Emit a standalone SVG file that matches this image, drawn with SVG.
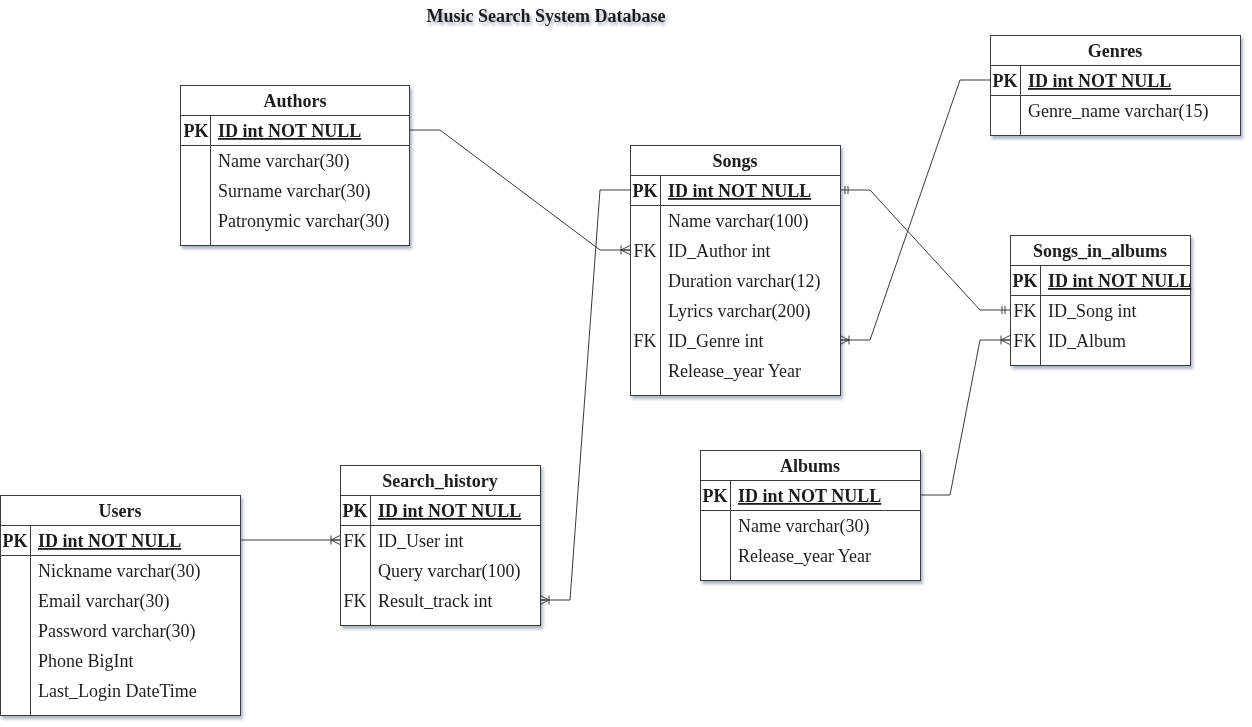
<svg xmlns="http://www.w3.org/2000/svg" width="1252" height="727" viewBox="0 0 1252 727">
<style>
  text { font-family: "Liberation Serif", "Times New Roman", serif; font-size: 18px; fill: #1e1e1e; }
  .title { font-weight: bold; text-anchor: middle; }
  .hdr { font-weight: bold; text-anchor: middle; }
  .key { text-anchor: middle; }
  .pk { font-weight: bold; }
  .pkf { font-weight: bold; text-decoration: underline; }
  .box { fill: #ffffff; stroke: #3a3a3a; stroke-width: 1; }
  .sep { stroke: #3a3a3a; stroke-width: 1; fill: none; }
  .conn { stroke: #3a3a3a; stroke-width: 1; fill: none; }
  .tbl { filter: url(#sh); }
</style>
<defs>
  <filter id="sh" x="-10%" y="-10%" width="130%" height="130%">
    <feDropShadow dx="2" dy="3" stdDeviation="1.6" flood-color="#1a2a50" flood-opacity="0.35"/>
  </filter>
  <marker id="oneMany" markerUnits="userSpaceOnUse" markerWidth="20" markerHeight="20" viewBox="-15 -10 20 20" refX="0" refY="0" orient="auto-start-reverse">
    <path d="M-9,0 L0,-4.5 M-9,0 L0,4.5 M-9,0 L0,0 M-9,-4.5 L-9,4.5" stroke="#3a3a3a" stroke-width="1" fill="none"/>
  </marker>
  <marker id="mandOne" markerUnits="userSpaceOnUse" markerWidth="20" markerHeight="20" viewBox="-15 -10 20 20" refX="0" refY="0" orient="auto-start-reverse">
    <path d="M-5,-4 L-5,4 M-8,-4 L-8,4" stroke="#3a3a3a" stroke-width="1" fill="none"/>
  </marker>
</defs>
<rect x="0" y="0" width="1252" height="727" fill="#ffffff"/>

<g class="tbl"><text class="title" x="546" y="22">Music Search System Database</text></g>

<g id="connectors">
  <path class="conn" d="M410,130 L440,130 L600,250 L630,250" marker-end="url(#oneMany)"/>
  <path class="conn" d="M630,190 L600,190 L570,600 L540,600" marker-end="url(#oneMany)"/>
  <path class="conn" d="M240,540 L340,540" marker-end="url(#oneMany)"/>
  <path class="conn" d="M840,190 L870,190 L980,310 L1010,310" marker-start="url(#mandOne)" marker-end="url(#mandOne)"/>
  <path class="conn" d="M990,80 L960,80 L870,340 L840,340" marker-end="url(#oneMany)"/>
  <path class="conn" d="M920,495 L950,495 L980,340 L1010,340" marker-end="url(#oneMany)"/>
</g>

<g id="authors" class="tbl">
  <rect class="box" x="180.5" y="85.5" width="229" height="160"/>
  <line class="sep" x1="180.5" y1="115.5" x2="409.5" y2="115.5"/>
  <line class="sep" x1="180.5" y1="145.5" x2="409.5" y2="145.5"/>
  <line class="sep" x1="210.5" y1="115.5" x2="210.5" y2="245.5"/>
  <text class="hdr" x="295" y="107">Authors</text>
  <text class="key pk" x="196" y="137">PK</text>
  <text class="pkf" x="218" y="137">ID int NOT NULL</text>
  <text x="218" y="167">Name varchar(30)</text>
  <text x="218" y="197">Surname varchar(30)</text>
  <text x="218" y="227">Patronymic varchar(30)</text>
</g>

<g id="songs" class="tbl">
  <rect class="box" x="630.5" y="145.5" width="210" height="250"/>
  <line class="sep" x1="630.5" y1="175.5" x2="840.5" y2="175.5"/>
  <line class="sep" x1="630.5" y1="205.5" x2="840.5" y2="205.5"/>
  <line class="sep" x1="660.5" y1="175.5" x2="660.5" y2="395.5"/>
  <text class="hdr" x="735" y="167">Songs</text>
  <text class="key pk" x="645" y="197">PK</text>
  <text class="pkf" x="668" y="197">ID int NOT NULL</text>
  <text x="668" y="227">Name varchar(100)</text>
  <text class="key" x="645" y="257">FK</text>
  <text x="668" y="257">ID_Author int</text>
  <text x="668" y="287">Duration varchar(12)</text>
  <text x="668" y="317">Lyrics varchar(200)</text>
  <text class="key" x="645" y="347">FK</text>
  <text x="668" y="347">ID_Genre int</text>
  <text x="668" y="377">Release_year Year</text>
</g>

<g id="genres" class="tbl">
  <rect class="box" x="990.5" y="35.5" width="250" height="100"/>
  <line class="sep" x1="990.5" y1="65.5" x2="1240.5" y2="65.5"/>
  <line class="sep" x1="990.5" y1="95.5" x2="1240.5" y2="95.5"/>
  <line class="sep" x1="1020.5" y1="65.5" x2="1020.5" y2="135.5"/>
  <text class="hdr" x="1115" y="57">Genres</text>
  <text class="key pk" x="1005" y="87">PK</text>
  <text class="pkf" x="1028" y="87">ID int NOT NULL</text>
  <text x="1028" y="117">Genre_name varchar(15)</text>
</g>

<g id="songs_in_albums" class="tbl">
  <rect class="box" x="1010.5" y="235.5" width="180" height="130"/>
  <line class="sep" x1="1010.5" y1="265.5" x2="1190.5" y2="265.5"/>
  <line class="sep" x1="1010.5" y1="295.5" x2="1190.5" y2="295.5"/>
  <line class="sep" x1="1040.5" y1="265.5" x2="1040.5" y2="365.5"/>
  <text class="hdr" x="1100" y="257">Songs_in_albums</text>
  <text class="key pk" x="1025" y="287">PK</text>
  <text class="pkf" x="1048" y="287">ID int NOT NULL</text>
  <text class="key" x="1025" y="317">FK</text>
  <text x="1048" y="317">ID_Song int</text>
  <text class="key" x="1025" y="347">FK</text>
  <text x="1048" y="347">ID_Album</text>
</g>

<g id="albums" class="tbl">
  <rect class="box" x="700.5" y="450.5" width="220" height="130"/>
  <line class="sep" x1="700.5" y1="480.5" x2="920.5" y2="480.5"/>
  <line class="sep" x1="700.5" y1="510.5" x2="920.5" y2="510.5"/>
  <line class="sep" x1="730.5" y1="480.5" x2="730.5" y2="580.5"/>
  <text class="hdr" x="810" y="472">Albums</text>
  <text class="key pk" x="715" y="502">PK</text>
  <text class="pkf" x="738" y="502">ID int NOT NULL</text>
  <text x="738" y="532">Name varchar(30)</text>
  <text x="738" y="562">Release_year Year</text>
</g>

<g id="users" class="tbl">
  <rect class="box" x="0.5" y="495.5" width="240" height="220"/>
  <line class="sep" x1="0.5" y1="525.5" x2="240.5" y2="525.5"/>
  <line class="sep" x1="0.5" y1="555.5" x2="240.5" y2="555.5"/>
  <line class="sep" x1="30.5" y1="525.5" x2="30.5" y2="715.5"/>
  <text class="hdr" x="120" y="517">Users</text>
  <text class="key pk" x="15" y="547">PK</text>
  <text class="pkf" x="38" y="547">ID int NOT NULL</text>
  <text x="38" y="577">Nickname varchar(30)</text>
  <text x="38" y="607">Email varchar(30)</text>
  <text x="38" y="637">Password varchar(30)</text>
  <text x="38" y="667">Phone BigInt</text>
  <text x="38" y="697">Last_Login DateTime</text>
</g>

<g id="search_history" class="tbl">
  <rect class="box" x="340.5" y="465.5" width="200" height="160"/>
  <line class="sep" x1="340.5" y1="495.5" x2="540.5" y2="495.5"/>
  <line class="sep" x1="340.5" y1="525.5" x2="540.5" y2="525.5"/>
  <line class="sep" x1="370.5" y1="495.5" x2="370.5" y2="625.5"/>
  <text class="hdr" x="440" y="487">Search_history</text>
  <text class="key pk" x="355" y="517">PK</text>
  <text class="pkf" x="378" y="517">ID int NOT NULL</text>
  <text class="key" x="355" y="547">FK</text>
  <text x="378" y="547">ID_User int</text>
  <text x="378" y="577">Query varchar(100)</text>
  <text class="key" x="355" y="607">FK</text>
  <text x="378" y="607">Result_track int</text>
</g>
</svg>
